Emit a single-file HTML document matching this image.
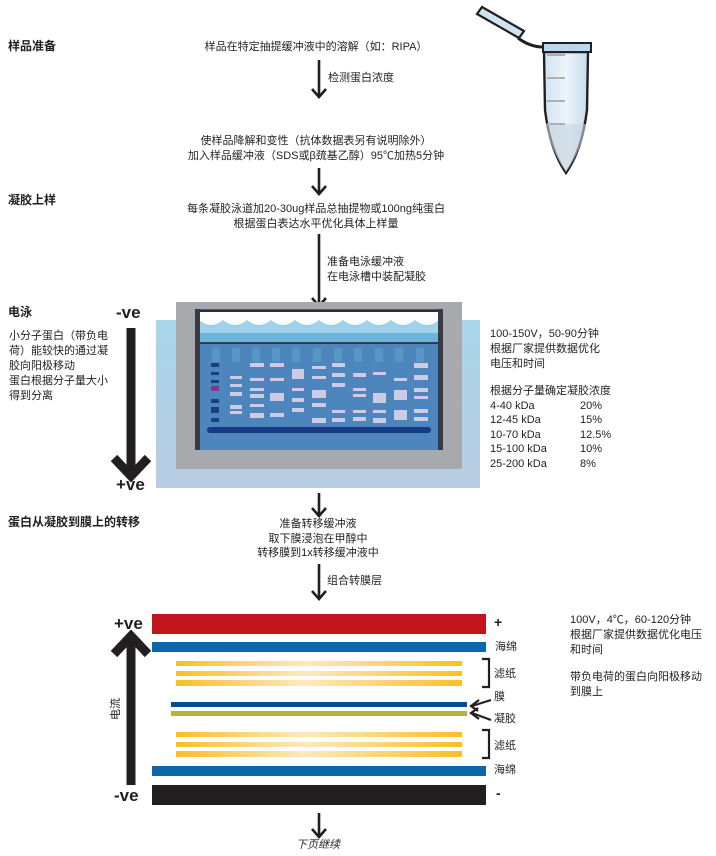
<!DOCTYPE html>
<html><head><meta charset="utf-8"><style>
body{margin:0;width:716px;height:856px;background:#fff;position:relative;overflow:hidden;font-family:"Liberation Sans","Noto Sans CJK SC",sans-serif;color:#231f20}
.t{position:absolute;font-size:11px;line-height:15px;white-space:nowrap}
.c{transform:translateX(-50%);text-align:center}
.b{font-weight:bold;font-size:12px}
.v{position:absolute;font-weight:bold;font-size:17px;line-height:18px}
svg{position:absolute;left:0;top:0}
</style></head><body>
<svg width="716" height="856">
<defs>
<linearGradient id="fp" x1="0" x2="1"><stop offset="0" stop-color="#fbbf24"/><stop offset="0.45" stop-color="#fde9c0"/><stop offset="1" stop-color="#fbbf24"/></linearGradient>
<linearGradient id="bg" x1="0" y1="0" x2="0" y2="1"><stop offset="0" stop-color="#a9d6ea"/><stop offset="1" stop-color="#b9cde4"/></linearGradient>
<linearGradient id="tb" x1="0" x2="1"><stop offset="0" stop-color="#cfe3f1"/><stop offset="0.5" stop-color="#eef4f9"/><stop offset="1" stop-color="#c6dcee"/></linearGradient>
</defs>
<!-- vertical arrows -->
<g stroke="#231f20" stroke-width="2.6" fill="none">
<line x1="319" y1="60" x2="319" y2="97"/><path d="M312,89 L319,97 L326,89"/>
<line x1="319" y1="168" x2="319" y2="194"/><path d="M312,186 L319,194 L326,186"/>
<line x1="319" y1="234" x2="319" y2="306"/><path d="M312,298 L319,306 L326,298"/>
<line x1="319" y1="493" x2="319" y2="516"/><path d="M312,508 L319,516 L326,508"/>
<line x1="319" y1="564" x2="319" y2="599"/><path d="M312,591 L319,599 L326,591"/>
<line x1="319" y1="813" x2="319" y2="837"/><path d="M312,829 L319,837 L326,829"/>
</g>
<!-- tube -->
<path d="M477,14 L482,7 L524,31 L519,38 Z" fill="#cfe3f1" stroke="#231f20" stroke-width="2.2"/>
<path d="M518,38 Q530,47 543,47" fill="none" stroke="#231f20" stroke-width="3"/>
<path d="M544,52 L588,52 L587,110 Q582,150 566,173 Q550,150 545,110 Z" fill="url(#tb)" stroke="#231f20" stroke-width="2.4"/>
<path d="M546,124 L586,124 L585,130 Q580,152 566,172 Q552,152 547,130 Z" fill="#c5d3e0" opacity="0.6"/>
<rect x="543" y="43" width="48" height="9" fill="#b9d8ee" stroke="#231f20" stroke-width="2"/>
<g stroke="#b0b0b0" stroke-width="2"><line x1="547" y1="55" x2="565" y2="55"/><line x1="547" y1="78" x2="565" y2="78"/><line x1="547" y1="101" x2="565" y2="101"/><line x1="547" y1="124" x2="565" y2="124"/></g>
<!-- electrophoresis tank -->
<rect x="156" y="320" width="324" height="168" fill="url(#bg)"/>
<rect x="176" y="302" width="286" height="167" fill="#a7a9ac"/>
<rect x="195" y="309" width="248" height="141" fill="#3f5f93"/>
<rect x="199" y="312" width="240" height="138" fill="#4c82b6"/>
<rect x="199" y="312" width="240" height="26" fill="#fff"/>
<g fill="#9fd2ea"><path d="M199,320 q12,10 24,0 q12,10 24,0 q12,10 24,0 q12,10 24,0 q12,10 24,0 q12,10 24,0 q12,10 24,0 q12,10 24,0 q12,10 24,0 q12,10 24,0 L439,338 L199,338Z"/></g>
<rect x="199" y="333" width="240" height="10" fill="#6fb3da"/>
<rect x="199" y="343" width="240" height="107" fill="#4d86bd"/>
<line x1="195" y1="311" x2="443" y2="311" stroke="#231f20" stroke-width="1.5"/>
<line x1="195" y1="343" x2="443" y2="343" stroke="#231f20" stroke-width="1.5"/>
<rect x="195" y="309" width="5" height="141" fill="#3a3a45"/><rect x="438" y="309" width="5" height="141" fill="#3a3a45"/>
<g fill="#5a9cc7" opacity="0.8"><rect x="212" y="348" width="8" height="14"/><rect x="232" y="348" width="8" height="14"/><rect x="252" y="348" width="8" height="14"/><rect x="272" y="348" width="8" height="14"/><rect x="292" y="348" width="8" height="14"/><rect x="313" y="348" width="8" height="14"/><rect x="334" y="348" width="8" height="14"/><rect x="354" y="348" width="8" height="14"/><rect x="375" y="348" width="8" height="14"/><rect x="395" y="348" width="8" height="14"/><rect x="416" y="348" width="8" height="14"/></g>
<g fill="#1b3f86"><rect x="211" y="363" width="8" height="4"/><rect x="211" y="372" width="8" height="3"/><rect x="211" y="380" width="8" height="3"/><rect x="211" y="399" width="8" height="4"/><rect x="211" y="407" width="8" height="6"/><rect x="211" y="418" width="8" height="4"/></g>
<rect x="211" y="386" width="8" height="5" fill="#7c3b8f"/>
<g fill="#dcd3ea" opacity="0.9"><rect x="230" y="376" width="12" height="3"/><rect x="230" y="384" width="12" height="3"/><rect x="230" y="392" width="12" height="4"/><rect x="230" y="405" width="12" height="4"/><rect x="230" y="411" width="12" height="3"/>
<rect x="250" y="363" width="14" height="4"/><rect x="250" y="378" width="14" height="3"/><rect x="250" y="388" width="14" height="3"/><rect x="250" y="394" width="14" height="4"/><rect x="250" y="404" width="14" height="3"/><rect x="250" y="413" width="14" height="5"/>
<rect x="270" y="363" width="14" height="4"/><rect x="270" y="378" width="14" height="3"/><rect x="270" y="393" width="14" height="8"/><rect x="270" y="413" width="14" height="4"/>
<rect x="292" y="369" width="12" height="10"/><rect x="292" y="388" width="12" height="3"/><rect x="292" y="398" width="12" height="4"/><rect x="292" y="408" width="12" height="4"/>
<rect x="312" y="366" width="14" height="3"/><rect x="312" y="376" width="14" height="3"/><rect x="312" y="390" width="14" height="8"/><rect x="312" y="403" width="14" height="4"/><rect x="312" y="418" width="14" height="5"/>
<rect x="332" y="363" width="13" height="4"/><rect x="332" y="373" width="13" height="4"/><rect x="332" y="383" width="13" height="4"/><rect x="332" y="410" width="13" height="3"/><rect x="332" y="418" width="13" height="4"/>
<rect x="353" y="373" width="13" height="4"/><rect x="353" y="388" width="13" height="3"/><rect x="353" y="394" width="13" height="3"/><rect x="353" y="410" width="13" height="3"/><rect x="353" y="417" width="13" height="4"/>
<rect x="373" y="372" width="13" height="3"/><rect x="373" y="393" width="13" height="10"/><rect x="373" y="410" width="13" height="3"/><rect x="373" y="418" width="13" height="5"/>
<rect x="394" y="378" width="13" height="3"/><rect x="394" y="390" width="13" height="10"/><rect x="394" y="410" width="13" height="10"/>
<rect x="414" y="363" width="14" height="5"/><rect x="414" y="375" width="14" height="5"/><rect x="414" y="388" width="14" height="4"/><rect x="414" y="396" width="14" height="3"/><rect x="414" y="409" width="14" height="4"/><rect x="414" y="417" width="14" height="4"/></g>
<rect x="207" y="427" width="224" height="6" rx="3" fill="#173a86"/>
<!-- left arrow electrophoresis -->
<line x1="131" y1="328" x2="131" y2="470" stroke="#231f20" stroke-width="9"/>
<path d="M114,458 L131,476 L148,458" fill="none" stroke="#231f20" stroke-width="9"/>
<!-- transfer stack -->
<rect x="152" y="614" width="334" height="20" fill="#c1141b"/>
<rect x="152" y="642" width="334" height="10" fill="#0b67a9"/>
<rect x="176" y="661" width="286" height="5" fill="url(#fp)"/>
<rect x="176" y="671" width="286" height="5" fill="url(#fp)"/>
<rect x="176" y="680" width="286" height="6" fill="url(#fp)"/>
<rect x="171" y="702" width="296" height="5" fill="#064d91"/>
<rect x="171" y="711" width="296" height="5" fill="#b1b53b"/>
<rect x="176" y="732" width="286" height="5" fill="url(#fp)"/>
<rect x="176" y="742" width="286" height="5" fill="url(#fp)"/>
<rect x="176" y="751" width="286" height="6" fill="url(#fp)"/>
<rect x="152" y="766" width="334" height="10" fill="#0b67a9"/>
<rect x="152" y="785" width="334" height="20" fill="#231f20"/>
<line x1="131" y1="785" x2="131" y2="640" stroke="#231f20" stroke-width="9"/>
<path d="M114,654 L131,636 L148,654" fill="none" stroke="#231f20" stroke-width="9"/>
<g fill="none" stroke="#231f20" stroke-width="2.2">
<path d="M482,659 L489,659 L489,687 L482,687"/>
<path d="M482,730 L489,730 L489,758 L482,758"/>
<path d="M491,700 L472,706"/><path d="M479,700 L471,706 L478,711"/>
<path d="M491,720 L472,713"/><path d="M478,708 L471,713 L479,719"/>
</g>
</svg>
<div class="t b" style="left:8px;top:39px">样品准备</div>
<div class="t c" style="left:316px;top:40px">样品在特定抽提缓冲液中的溶解（如：RIPA）</div>
<div class="t" style="left:328px;top:71px">检测蛋白浓度</div>
<div class="t c" style="left:316px;top:134px">使样品降解和变性（抗体数据表另有说明除外）<br>加入样品缓冲液（SDS或β巯基乙醇）95℃加热5分钟</div>
<div class="t b" style="left:8px;top:193px">凝胶上样</div>
<div class="t c" style="left:316px;top:202px">每条凝胶泳道加20-30ug样品总抽提物或100ng纯蛋白<br>根据蛋白表达水平优化具体上样量</div>
<div class="t" style="left:327px;top:255px">准备电泳缓冲液<br>在电泳槽中装配凝胶</div>
<div class="t b" style="left:8px;top:305px">电泳</div>
<div class="v" style="left:116px;top:304px">-ve</div>
<div class="t" style="left:9px;top:329px">小分子蛋白（带负电<br>荷）能较快的通过凝<br>胶向阳极移动<br>蛋白根据分子量大小<br>得到分离</div>
<div class="v" style="left:116px;top:476px">+ve</div>
<div class="t" style="left:490px;top:327px">100-150V，50-90分钟<br>根据厂家提供数据优化<br>电压和时间</div>
<div class="t" style="left:490px;top:384px;line-height:14.5px">根据分子量确定凝胶浓度<br>4-40 kDa<br>12-45 kDa<br>10-70 kDa<br>15-100 kDa<br>25-200 kDa</div>
<div class="t" style="left:580px;top:398.5px;line-height:14.5px">20%<br>15%<br>12.5%<br>10%<br>8%</div>
<div class="t b" style="left:8px;top:515px">蛋白从凝胶到膜上的转移</div>
<div class="t c" style="left:318px;top:517px;line-height:14.5px">准备转移缓冲液<br>取下膜浸泡在甲醇中<br>转移膜到1x转移缓冲液中</div>
<div class="t" style="left:327px;top:574px">组合转膜层</div>
<div class="v" style="left:114px;top:615px">+ve</div>
<div class="v" style="left:114px;top:787px">-ve</div>
<div class="t" style="left:109px;top:720px;transform:rotate(-90deg);transform-origin:left top">电流</div>
<div class="t b" style="left:494px;top:615px;font-size:14px">+</div>
<div class="t" style="left:495px;top:640px">海绵</div>
<div class="t" style="left:494px;top:667px">滤纸</div>
<div class="t" style="left:494px;top:690px">膜</div>
<div class="t" style="left:494px;top:712px">凝胶</div>
<div class="t" style="left:494px;top:739px">滤纸</div>
<div class="t" style="left:494px;top:763px">海绵</div>
<div class="t b" style="left:496px;top:786px;font-size:14px">-</div>
<div class="t" style="left:570px;top:613px">100V，4℃，60-120分钟<br>根据厂家提供数据优化电压<br>和时间</div>
<div class="t" style="left:570px;top:670px">带负电荷的蛋白向阳极移动<br>到膜上</div>
<div class="t" style="left:296px;top:838px;font-style:italic">下页继续</div>
</body></html>
